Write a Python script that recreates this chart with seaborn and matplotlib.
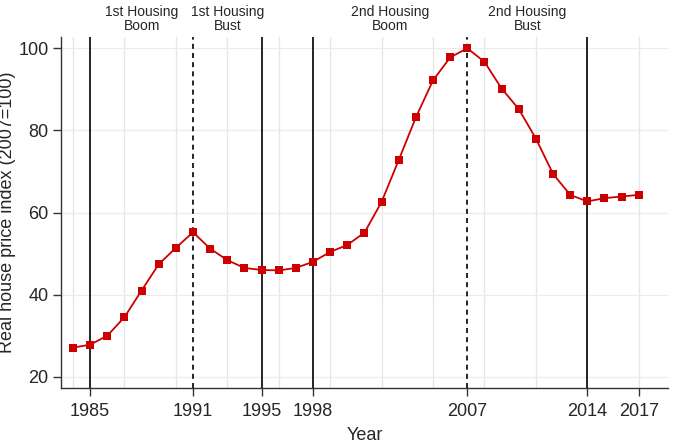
import numpy as np
import pandas as pd
import seaborn as sns
import matplotlib.pyplot as plt

years = list(range(1984, 2018))
index = [27.1, 27.8, 30.0, 34.5, 41.0, 47.4, 51.4, 55.2, 51.2, 48.4,
         46.5, 46.0, 45.9, 46.5, 48.0, 50.4, 52.1, 55.1, 62.6, 72.8,
         83.2, 92.2, 97.8, 100.0, 96.7, 90.2, 85.2, 78.0, 69.4, 64.3,
         62.7, 63.5, 63.9, 64.3]

solid_years = [1985, 1995, 1998, 2014]
dashed_years = [1991, 2007]
tick_years = [1985, 1991, 1995, 1998, 2007, 2014, 2017]
grid_years = list(range(1984, 2018, 3))
y_ticks = [20, 40, 60, 80, 100]

phase_labels = ['1st Housing\nBoom', '1st Housing\nBust',
                '2nd Housing\nBoom', '2nd Housing\nBust']
phase_pos = [1988, 1993, 2002.5, 2010.5]

df = pd.DataFrame({'Year': years, 'Index': index})

sns.set_style('white')
plt.rcParams['font.family'] = ['Liberation Sans', 'DejaVu Sans']
plt.rcParams['xtick.bottom'] = True
plt.rcParams['ytick.left'] = True

fig = plt.figure(figsize=(6.74, 4.46), dpi=100)
ax = fig.add_axes([0.0905, 0.130, 0.9005, 0.787])

# light grid
for g in grid_years:
    ax.axvline(g, color='#e6e6e6', lw=0.9, zorder=0)
for t in y_ticks:
    ax.axhline(t, color='#ececec', lw=0.9, zorder=0)

for v in solid_years:
    ax.axvline(v, color='black', lw=1.2, zorder=1)
for v in dashed_years:
    ax.axvline(v, color='black', lw=1.2, ls=(0, (3, 2.5)), zorder=1)

sns.lineplot(data=df, x='Year', y='Index', ax=ax, color='#cc0000',
             marker='s', markersize=6, markeredgewidth=0, lw=1.3, zorder=3)

ax.set_xlim(1983.3, 2018.7)
ax.set_ylim(17.25, 102.75)
ax.set_xticks(tick_years)
ax.set_yticks(y_ticks)
ax.tick_params(axis='both', which='major', bottom=True, left=True,
               direction='out', length=6, width=1, color='#333333',
               labelsize=13, pad=3)
ax.tick_params(axis='x', pad=5)

for s in ['top', 'right']:
    ax.spines[s].set_visible(False)
for s in ['left', 'bottom']:
    ax.spines[s].set_color('#333333')
    ax.spines[s].set_linewidth(1)

ax.set_xlabel('Year', fontsize=13, labelpad=5)
ax.set_ylabel('Real house price index (2007=100)', fontsize=13)
ax.yaxis.set_label_coords(-0.074, 0.5)

for lab, x in zip(phase_labels, phase_pos):
    ax.text(x, 1.012, lab, transform=ax.get_xaxis_transform(), ha='center',
            va='bottom', fontsize=10, linespacing=0.95)

fig.savefig('out.png', dpi=100)
